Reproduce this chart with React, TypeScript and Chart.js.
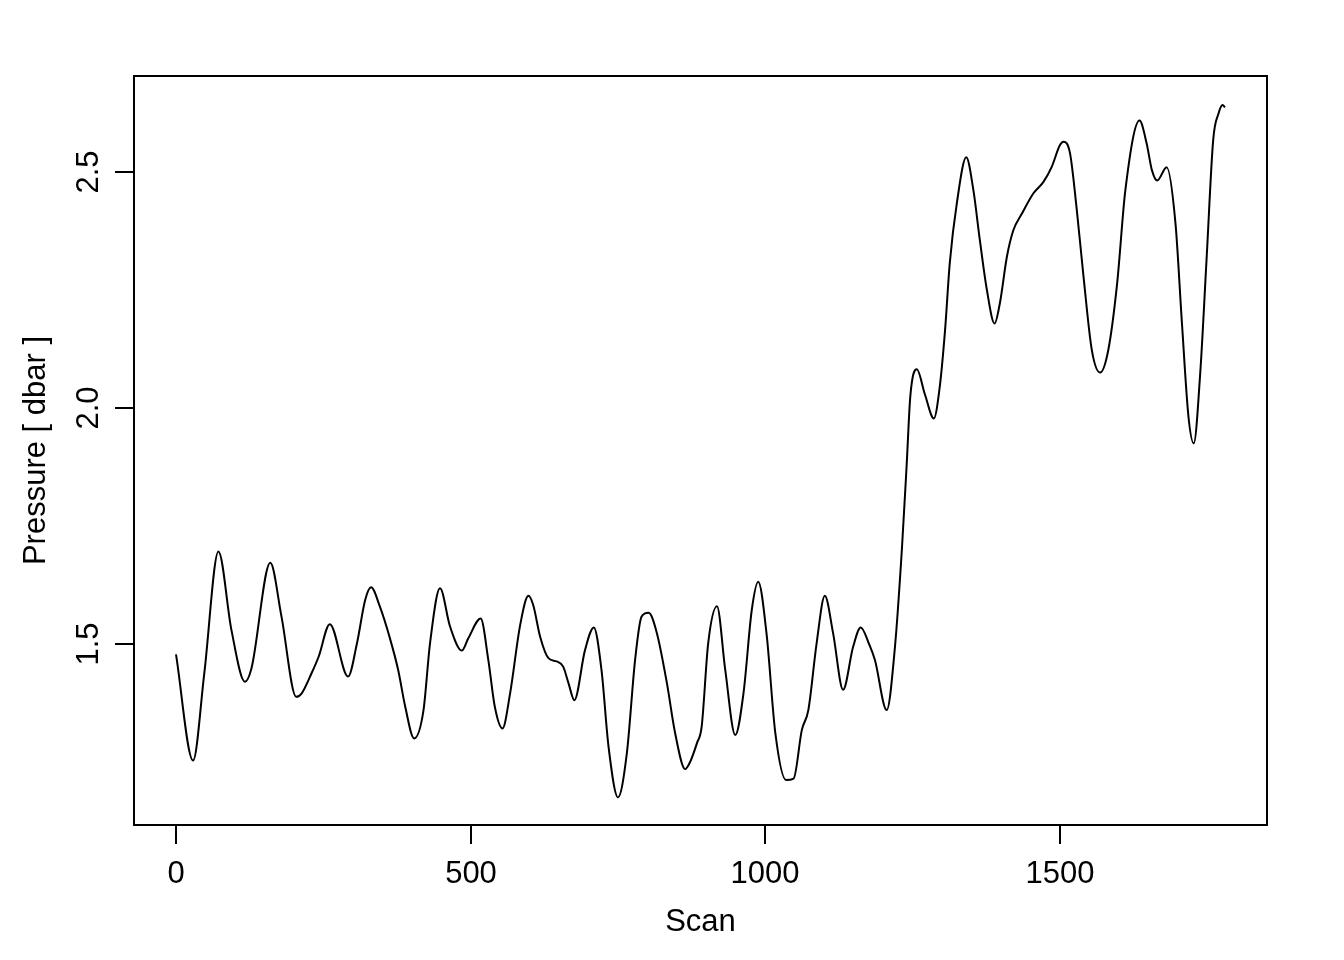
import React, { useEffect, useRef } from "react";
import { Chart, registerables } from "chart.js";

Chart.register(...registerables);

const scan = [
  0, 29, 48, 72, 94, 117, 128, 160, 179, 204, 213, 230, 242, 261, 292,
  307, 321, 331, 346, 363, 377, 389, 404, 420, 431, 448, 465, 485, 496, 517,
  530, 541, 554, 567, 584, 598, 606, 618, 632, 646, 657, 666, 676, 694, 709,
  722, 734, 750, 765, 779, 790, 802, 816, 833, 847, 864, 872, 884, 892, 903,
  918, 932, 949, 963, 977, 988, 1002, 1017, 1035, 1048, 1062, 1073, 1087,
  1101, 1115, 1132, 1149, 1162, 1176, 1186, 1206, 1220, 1232, 1240, 1246,
  1257, 1271, 1286, 1296, 1305, 1313, 1325, 1341, 1353, 1364, 1376, 1389,
  1398, 1410, 1421, 1435, 1455, 1472, 1486, 1500, 1506, 1517, 1528, 1540,
  1554, 1568, 1582, 1597, 1611, 1635, 1647, 1656, 1665, 1681, 1696, 1707,
  1718, 1727, 1738, 1749, 1760, 1769, 1776, 1780,
];

const pressure = [
  1.478, 1.253, 1.438, 1.696, 1.53, 1.42, 1.448, 1.672, 1.558, 1.388, 1.395,
  1.438, 1.473, 1.542, 1.431, 1.501, 1.593, 1.62, 1.579, 1.512, 1.445,
  1.367, 1.3, 1.36, 1.501, 1.618, 1.537, 1.486, 1.512, 1.554, 1.466, 1.367,
  1.321, 1.396, 1.54, 1.602, 1.583, 1.515, 1.47, 1.463, 1.452, 1.417, 1.381,
  1.487, 1.535, 1.445, 1.282, 1.175, 1.268, 1.466, 1.558, 1.566, 1.523,
  1.417, 1.311, 1.235, 1.249, 1.29, 1.325, 1.501, 1.58, 1.445, 1.307, 1.396,
  1.572, 1.632, 1.523, 1.311, 1.212, 1.215, 1.318, 1.36, 1.501, 1.602, 1.523,
  1.403, 1.494, 1.535, 1.5, 1.466, 1.36, 1.494, 1.706, 1.883, 2.024, 2.082,
  2.028, 1.978, 2.045, 2.165, 2.307, 2.434, 2.531, 2.462, 2.356, 2.25, 2.179,
  2.222, 2.321, 2.377, 2.411, 2.455, 2.479, 2.511, 2.557, 2.564, 2.54, 2.426,
  2.278, 2.123, 2.075, 2.123, 2.264, 2.462, 2.609, 2.561, 2.504, 2.482, 2.51,
  2.391, 2.179, 1.982, 1.925, 2.074, 2.321, 2.568, 2.624, 2.642, 2.637,
];

const xTicks = [0, 500, 1000, 1500];
const xTickLabels = ["0", "500", "1000", "1500"];
const yTicks = [1.5, 2.0, 2.5];
const yTickLabels = ["1.5", "2.0", "2.5"];
const xTitle = "Scan";
const yTitle = "Pressure [ dbar ]";

const FONT = '31px "Liberation Sans", Arial, Helvetica, sans-serif';

const rAxesPlugin = {
  id: "rAxes",
  afterDraw(chart: any) {
    const { ctx, chartArea, scales } = chart;
    const xs = scales.x;
    const ys = scales.y;
    const tickLen = 19;
    ctx.save();
    ctx.strokeStyle = "#000";
    ctx.fillStyle = "#000";
    ctx.lineWidth = 2;
    // frame
    ctx.strokeRect(
      chartArea.left,
      chartArea.top,
      chartArea.right - chartArea.left,
      chartArea.bottom - chartArea.top
    );
    ctx.font = FONT;
    // x ticks
    ctx.textAlign = "center";
    ctx.textBaseline = "alphabetic";
    xTicks.forEach((v, i) => {
      const px = Math.round(xs.getPixelForValue(v));
      ctx.beginPath();
      ctx.moveTo(px, chartArea.bottom);
      ctx.lineTo(px, chartArea.bottom + tickLen);
      ctx.stroke();
      ctx.fillText(xTickLabels[i], px, chartArea.bottom + 58);
    });
    // y ticks
    yTicks.forEach((v, i) => {
      const py = Math.round(ys.getPixelForValue(v));
      ctx.beginPath();
      ctx.moveTo(chartArea.left, py);
      ctx.lineTo(chartArea.left - tickLen, py);
      ctx.stroke();
      ctx.save();
      ctx.translate(chartArea.left - 36, py);
      ctx.rotate(-Math.PI / 2);
      ctx.textAlign = "center";
      ctx.textBaseline = "alphabetic";
      ctx.fillText(yTickLabels[i], 0, 0);
      ctx.restore();
    });
    // titles
    ctx.textAlign = "center";
    ctx.textBaseline = "alphabetic";
    ctx.fillText(xTitle, (chartArea.left + chartArea.right) / 2, chartArea.bottom + 106);
    ctx.save();
    ctx.translate(chartArea.left - 89, (chartArea.top + chartArea.bottom) / 2);
    ctx.rotate(-Math.PI / 2);
    ctx.fillText(yTitle, 0, 0);
    ctx.restore();
    ctx.restore();
  },
};

export default function App() {
  const canvasRef = useRef<HTMLCanvasElement | null>(null);

  useEffect(() => {
    if (!canvasRef.current) return;
    const data = scan.map((s, i) => ({ x: s, y: pressure[i] }));
    const chart = new Chart(canvasRef.current, {
      type: "line",
      data: {
        datasets: [
          {
            data,
            borderColor: "#000",
            borderWidth: 2,
            pointRadius: 0,
            fill: false,
            cubicInterpolationMode: "monotone",
          },
        ],
      },
      options: {
        animation: false,
        responsive: false,
        maintainAspectRatio: false,
        parsing: false,
        layout: { padding: { left: 134, top: 76, right: 77, bottom: 135 } },
        plugins: {
          legend: { display: false },
          tooltip: { enabled: false },
        },
        scales: {
          x: { type: "linear", min: -71.27, max: 1851.3, display: false },
          y: { type: "linear", min: 1.1165, max: 2.7034, display: false },
        },
      },
      plugins: [rAxesPlugin],
    } as any);
    return () => chart.destroy();
  }, []);

  return (
    <div style={{ position: "fixed", left: 0, top: 0, width: 1344, height: 960, background: "#fff" }}>
      <canvas ref={canvasRef} width={1344} height={960} style={{ display: "block" }} />
    </div>
  );
}
